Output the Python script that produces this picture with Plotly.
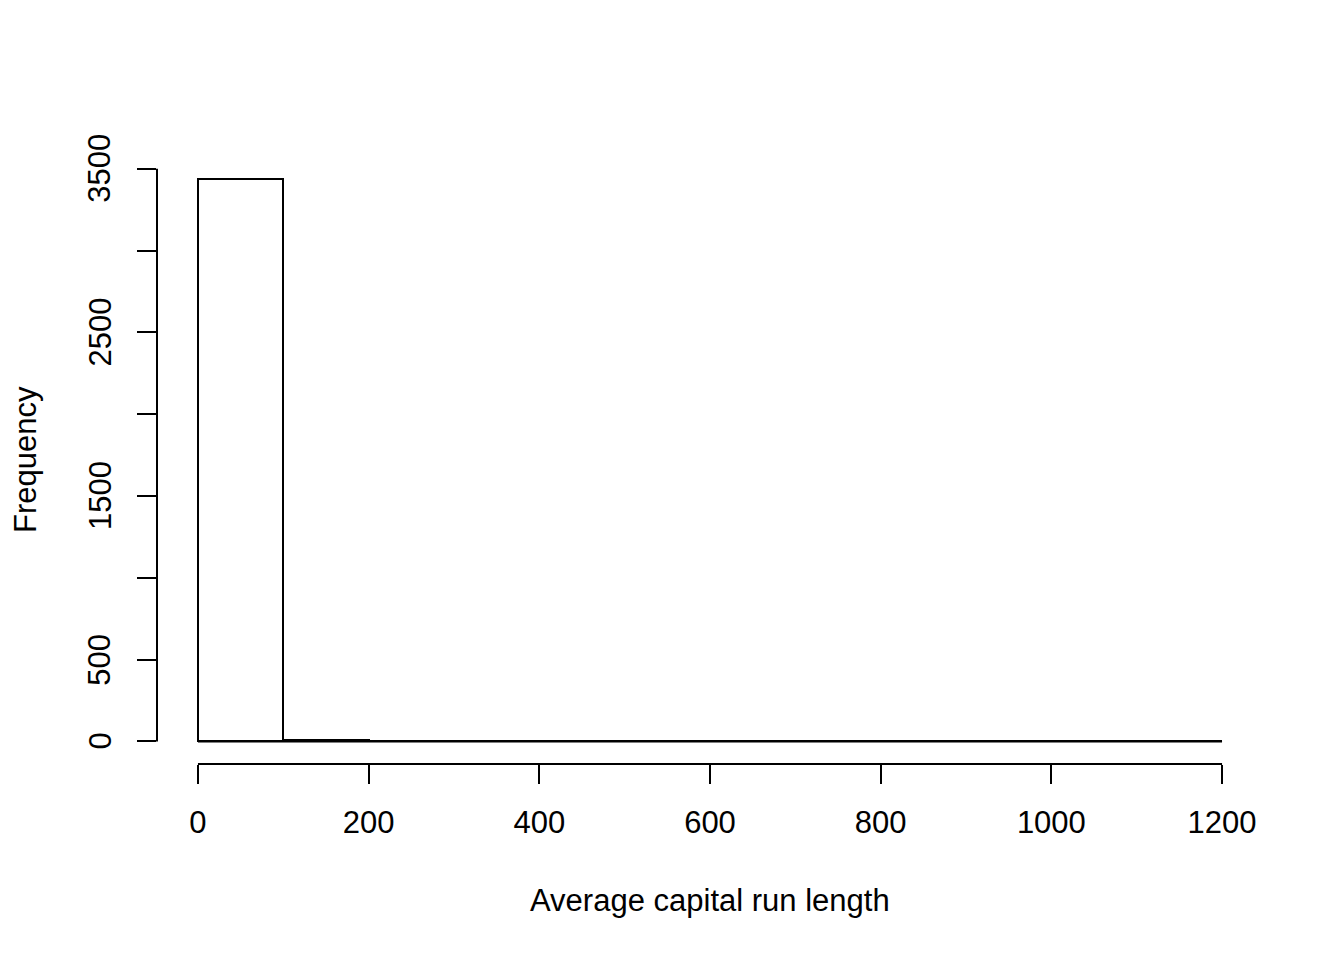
import plotly.graph_objects as go

# Histogram bins (width 100) and counts
bin_edges = [0, 100, 200, 300, 400, 500, 600, 700, 800, 900, 1000, 1100, 1200]
counts = [3440, 8, 2, 1, 0, 1, 0, 0, 0, 0, 0, 1]

x_ticks = [0, 200, 400, 600, 800, 1000, 1200]
x_tick_labels = ["0", "200", "400", "600", "800", "1000", "1200"]
y_ticks = [0, 500, 1000, 1500, 2000, 2500, 3000, 3500]
y_tick_labels = ["0", "500", "", "1500", "", "2500", "", "3500"]

x_title = "Average capital run length"
y_title = "Frequency"

FONT = "Liberation Sans, Arial, sans-serif"
FS = 31

centers = [(a + b) / 2 for a, b in zip(bin_edges[:-1], bin_edges[1:])]
widths = [b - a for a, b in zip(bin_edges[:-1], bin_edges[1:])]

fig = go.Figure()
fig.add_trace(go.Bar(
    x=centers, y=counts, width=widths,
    marker=dict(color="white", line=dict(color="black", width=2)),
    hoverinfo="x+y", showlegend=False,
))
# baseline of (empty) bins, as R draws zero-height rectangles
fig.add_trace(go.Scatter(
    x=bin_edges, y=[0] * len(bin_edges), mode="lines",
    line=dict(color="black", width=2), hoverinfo="skip", showlegend=False,
))

xmin, xmax = bin_edges[0], bin_edges[-1]
ymax = max(counts)
xpad = 0.04 * (xmax - xmin)
ypad = 0.04 * ymax

# rotated y tick labels, centred on their ticks (as R draws them)
y_label_annotations = [
    dict(text=t, xref="paper", yref="y", x=-0.0515, y=v,
         xanchor="center", yanchor="middle", showarrow=False, textangle=-90,
         font=dict(family=FONT, size=FS, color="black"))
    for v, t in zip(y_ticks, y_tick_labels) if t
]

fig.update_layout(
    width=1344, height=960,
    margin=dict(l=149, r=89, t=148, b=204),
    paper_bgcolor="white", plot_bgcolor="white",
    font=dict(family=FONT, size=FS, color="black"),
    bargap=0,
    xaxis=dict(
        range=[xmin - xpad, xmax + xpad], showgrid=False, zeroline=False,
        showline=False, ticks="outside", ticklen=19, tickwidth=2, tickcolor="black",
        tickvals=x_ticks, ticktext=x_tick_labels, ticklabelstandoff=12,
        tickfont=dict(family=FONT, size=FS, color="black"),
    ),
    yaxis=dict(
        range=[-ypad, ymax + 0.04 * ymax], showgrid=False, zeroline=False,
        showline=False, ticks="outside", ticklen=19, tickwidth=2, tickcolor="black",
        tickvals=y_ticks, showticklabels=False,
    ),
    shapes=[
        dict(type="line", xref="x", yref="paper", x0=x_ticks[0], x1=x_ticks[-1],
             y0=0, y1=0, line=dict(color="black", width=2)),
        dict(type="line", xref="paper", yref="y", x0=0, x1=0,
             y0=y_ticks[0], y1=y_ticks[-1], line=dict(color="black", width=2)),
    ],
    annotations=y_label_annotations + [
        dict(text=x_title, xref="paper", yref="paper", x=0.5, y=-0.2253,
             xanchor="center", yanchor="middle", showarrow=False,
             font=dict(family=FONT, size=FS, color="black")),
        dict(text=y_title, xref="paper", yref="paper", x=-0.1193, y=0.5,
             xanchor="center", yanchor="middle", showarrow=False, textangle=-90,
             font=dict(family=FONT, size=FS, color="black")),
    ],
)

fig.write_html("out.html")
